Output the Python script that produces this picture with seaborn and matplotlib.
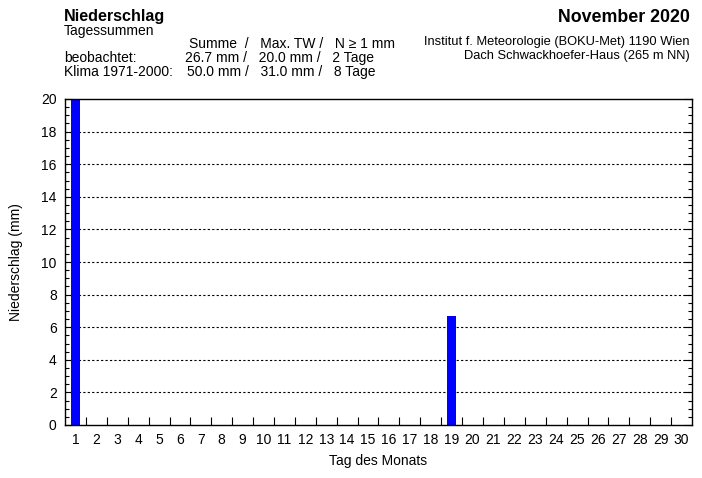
import matplotlib
matplotlib.use("Agg")
import matplotlib.pyplot as plt
import seaborn as sns
import pandas as pd
from matplotlib.ticker import MultipleLocator, FixedLocator

days = list(range(1, 31))
precip = [20.0] + [0.0]*17 + [6.7] + [0.0]*11

sns.set_style("white")
plt.rcParams['font.family'] = ['Liberation Sans', 'DejaVu Sans']
plt.rcParams['text.color'] = 'black'
plt.rcParams['axes.labelcolor'] = 'black'
plt.rcParams['xtick.color'] = 'black'
plt.rcParams['ytick.color'] = 'black'

df = pd.DataFrame({"day": days, "mm": precip})

fig = plt.figure(figsize=(7.02, 4.78), dpi=100)
ax = fig.add_axes([65/702, 53/478, 627/702, 326/478])
sns.barplot(data=df, x="day", y="mm", order=days, color="#0000ff", width=0.45,
            saturation=1, ax=ax, linewidth=0)

ax.set_xlim(-0.5, 29.5)
ax.set_ylim(0, 20)
for y in range(2, 20, 2):
    ax.axhline(y, color="black", linestyle=(0, (2, 2)), linewidth=0.8, zorder=0)

for s in ax.spines.values():
    s.set_color("black")
    s.set_linewidth(1.0)
    s.set_visible(True)

ax.yaxis.set_major_locator(MultipleLocator(2))
ax.yaxis.set_minor_locator(MultipleLocator(0.5))
ax.tick_params(axis='y', which='major', direction='in', length=6, width=0.8,
               left=True, right=True, labelsize=10, pad=6, colors='black')
ax.tick_params(axis='y', which='minor', direction='in', length=3, width=0.8,
               left=True, right=True, colors='black')
ax.set_xticks(range(30))
ax.set_xticklabels([str(d) for d in days])
ax.xaxis.set_minor_locator(FixedLocator([i + 0.5 for i in range(29)]))
ax.tick_params(axis='x', which='major', length=0, labelsize=10, pad=6, colors='black')
ax.tick_params(axis='x', which='minor', direction='in', length=6, width=0.8, bottom=True, colors='black')

ax.set_xlabel("Tag des Monats", fontsize=10, labelpad=5, color='black')
ax.set_ylabel("Niederschlag (mm)", fontsize=10, labelpad=13, color='black')

fig.text(64/702, 1 - 17/478, "Niederschlag", fontsize=11.6, fontweight='bold', va='center', ha='left')
fig.text(64/702, 1 - 31/478, "Tagessummen", fontsize=10, va='center', ha='left')
fig.text(189/702, 1 - 44/478, "Summe  /   Max. TW /   N \u2265 1 mm", fontsize=10, va='center', ha='left')
fig.text(64/702, 1 - 58/478, "beobachtet:", fontsize=10, va='center', ha='left')
fig.text(64/702, 1 - 72/478, "Klima 1971-2000:", fontsize=10, va='center', ha='left')
fig.text(185/702, 1 - 58/478, "26.7 mm /   20.0 mm /   2 Tage", fontsize=10, va='center', ha='left')
fig.text(187/702, 1 - 72/478, "50.0 mm /   31.0 mm /   8 Tage", fontsize=10, va='center', ha='left')

fig.text(690/702, 1 - 17/478, "November 2020", fontsize=12.8, fontweight='bold', va='center', ha='right')
fig.text(690/702, 1 - 42/478, "Institut f. Meteorologie (BOKU-Met) 1190 Wien", fontsize=9.3, va='center', ha='right')
fig.text(690/702, 1 - 56/478, "Dach Schwackhoefer-Haus (265 m NN)", fontsize=9.3, va='center', ha='right')

fig.savefig("out.png", dpi=100)
